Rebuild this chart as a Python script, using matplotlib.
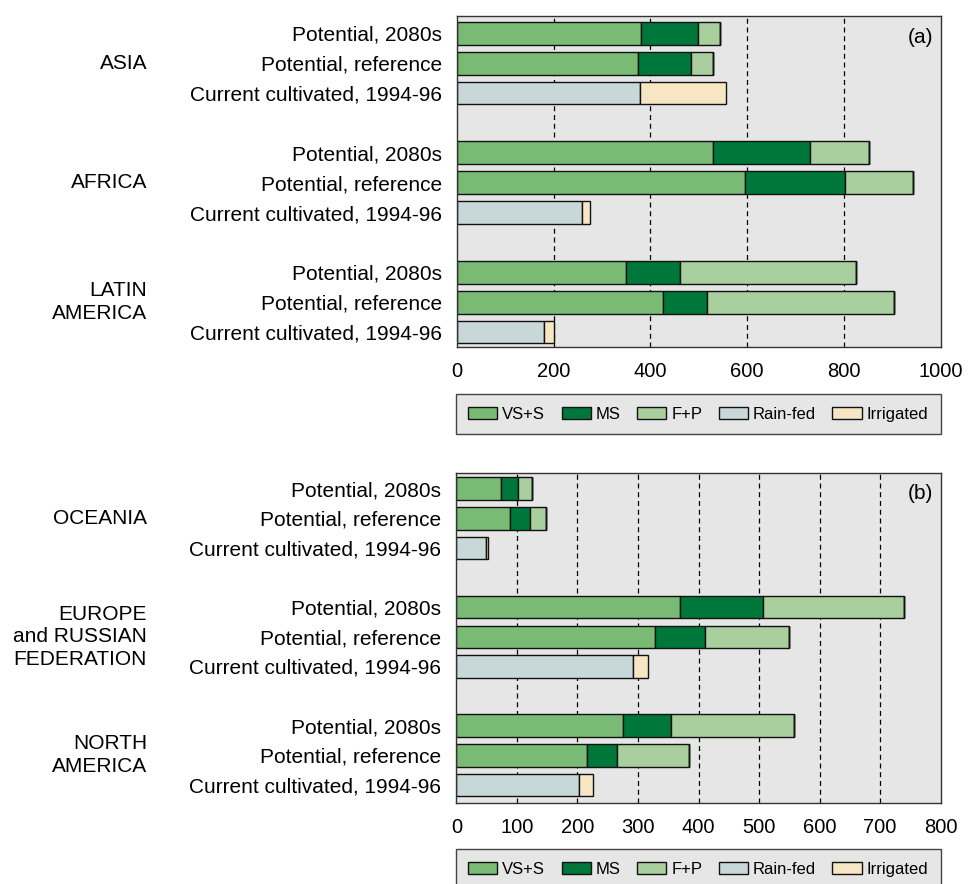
import matplotlib
matplotlib.use('Agg')
import matplotlib.pyplot as plt
import matplotlib.transforms as mtransforms
from matplotlib.patches import Patch

plt.rcParams['font.family'] = ['Liberation Sans', 'DejaVu Sans']

# row labels (top to bottom inside each group)
row_labels = ["Potential, 2080s", "Potential, reference", "Current cultivated, 1994-96"]

# panel (a)
regions_a = ["ASIA", "AFRICA", "LATIN\nAMERICA"]
vs_a = [380, 375, 0, 530, 596, 0, 349, 426, 0]
ms_a = [119, 109, 0, 200, 207, 0, 113, 91, 0]
fp_a = [45, 46, 0, 121, 139, 0, 362, 386, 0]
rain_a = [0, 0, 378, 0, 0, 259, 0, 0, 180]
irr_a = [0, 0, 179, 0, 0, 15, 0, 0, 21]
ticks_a = [0, 200, 400, 600, 800, 1000]

# panel (b)
regions_b = ["OCEANIA", "EUROPE\nand RUSSIAN\nFEDERATION", "NORTH\nAMERICA"]
vs_b = [73, 88, 0, 370, 328, 0, 276, 216, 0]
ms_b = [29, 34, 0, 137, 82, 0, 79, 50, 0]
fp_b = [23, 26, 0, 233, 139, 0, 202, 119, 0]
rain_b = [0, 0, 49, 0, 0, 291, 0, 0, 203]
irr_b = [0, 0, 4, 0, 0, 25, 0, 0, 23]
ticks_b = [0, 100, 200, 300, 400, 500, 600, 700, 800]

series_names = ["VS+S", "MS", "F+P", "Rain-fed", "Irrigated"]
colors = ["#79bb74", "#00773a", "#a8cf9d", "#c8d8d9", "#f6e6c3"]
BG = "#e6e6e6"

positions = [0, 1, 2, 4, 5, 6, 8, 9, 10]
region_pos = [1, 5, 9]


def draw_panel(fig, rect, series, ticks, regions, tag, ylim, leg_rect):
    ax = fig.add_axes(rect)
    ax.set_facecolor(BG)
    for t in ticks[1:-1]:
        ax.axvline(t, color='black', lw=0.9, ls=(0, (4, 3)), zorder=1)

    left = [0] * len(positions)
    for vals, col in zip(series, colors):
        ax.barh(positions, vals, left=left, height=0.76, color=col,
                edgecolor='#111111', linewidth=1.0, zorder=2)
        left = [a + b for a, b in zip(left, vals)]

    ax.set_xlim(ticks[0], ticks[-1])
    ax.set_ylim(*ylim)
    ax.set_xticks(ticks)
    ax.set_xticklabels([str(t) for t in ticks], fontsize=14.5)
    ax.set_yticks(positions)
    ax.set_yticklabels(row_labels * 3, fontsize=15)
    ax.tick_params(axis='both', length=0)
    ax.tick_params(axis='x', pad=11)
    ax.tick_params(axis='y', pad=11)
    for s in ax.spines.values():
        s.set_color('#333333')
        s.set_linewidth(1.0)

    ax.text(0.985, 0.965, tag, transform=ax.transAxes, ha='right', va='top',
            fontsize=15)

    # region names: x in figure fraction, y in data units
    trans = mtransforms.blended_transform_factory(fig.transFigure, ax.transData)
    for name, p in zip(regions, region_pos):
        ax.text(147 / 968, p, name, transform=trans, clip_on=False,
                ha='right', va='center', fontsize=15, linespacing=1.25)

    handles = [Patch(facecolor=c, edgecolor='#111111', linewidth=1.0)
               for c in colors]
    leg = fig.legend(handles, series_names, loc='lower left',
                     bbox_to_anchor=leg_rect, mode='expand', ncol=5,
                     fontsize=12, frameon=True, fancybox=False,
                     framealpha=1, facecolor=BG, edgecolor='#444444',
                     handlelength=1.75, handleheight=0.75, handletextpad=0.3,
                     borderpad=0.75, borderaxespad=0, columnspacing=1.4)
    leg.get_frame().set_linewidth(1.0)
    return ax


fig = plt.figure(figsize=(9.68, 8.84), dpi=100)

draw_panel(fig, [0.4721, 0.6075, 0.4997, 0.3744],
           [vs_a, ms_a, fp_a, rain_a, irr_a], ticks_a, regions_a, "(a)",
           (10.5, -0.58), (0.4708, 0.5090, 0.5010, 0.0404))
draw_panel(fig, [0.4714, 0.0920, 0.5004, 0.3733],
           [vs_b, ms_b, fp_b, rain_b, irr_b], ticks_b, regions_b, "(b)",
           (10.6, -0.54), (0.4708, -0.0060, 0.5010, 0.0404))

fig.savefig("out.png", dpi=100)
